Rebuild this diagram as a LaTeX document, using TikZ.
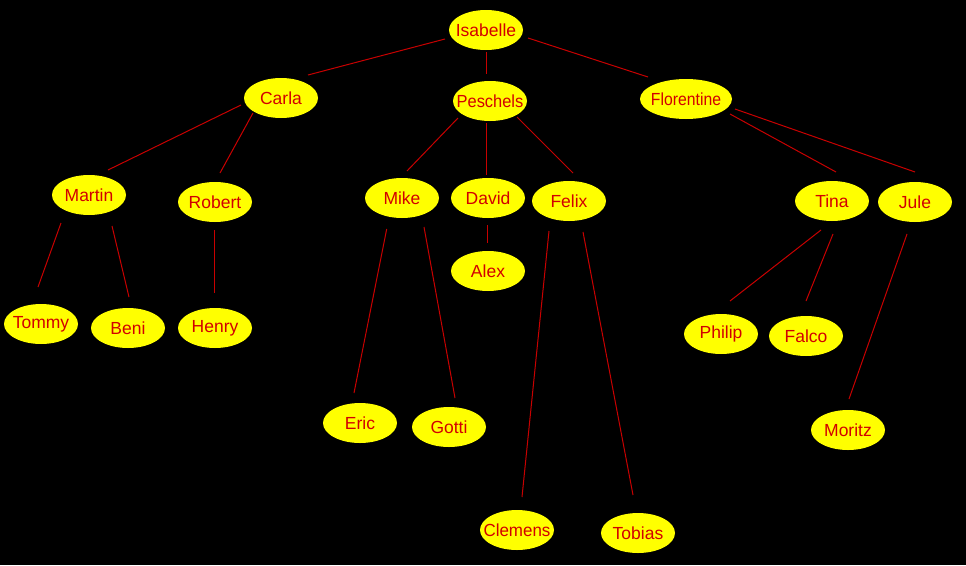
\documentclass[tikz,border=0pt]{standalone}
\usepackage{fontspec}
\setmainfont{Liberation Sans}
\usetikzlibrary{shapes.geometric}
\definecolor{nodered}{RGB}{210,0,0}
\definecolor{linered}{RGB}{200,0,0}
\definecolor{nodeyellow}{RGB}{255,255,0}
\tikzset{
  person/.style={rectangle, text=nodered, minimum width=74pt, minimum height=40pt, inner sep=0pt,
    font=\fontsize{17.5}{17.5}\selectfont,
    path picture={\fill[nodeyellow] (path picture bounding box.center) ellipse ({\pgfkeysvalueof{/tikz/ellw}} and 20pt);}},
  ellw/.initial=37pt,
  wide/.style={minimum width=92pt, ellw=46pt},
  link/.style={draw=linered, line width=1pt}
}
\begin{document}
\begin{tikzpicture}[x=1pt,y=-1pt]
\fill[black] (0,0) rectangle (966,565);
\useasboundingbox (0,0) rectangle (966,565);
% nodes
\node[person] (isabelle) at (486,30) {Isabelle};
\node[person] (carla) at (281,98) {Carla};
\node[person] (peschels) at (490,101) {\scalebox{0.94}[1]{Peschels}};
\node[person,wide] (florentine) at (686,99) {\scalebox{0.9}[1]{Florentine}};
\node[person] (martin) at (89,195) {Martin};
\node[person] (robert) at (215,202) {Robert};
\node[person] (mike) at (402,198) {Mike};
\node[person] (david) at (488,198) {David};
\node[person] (felix) at (569,201) {Felix};
\node[person] (tina) at (832,201) {Tina};
\node[person] (jule) at (915,202) {Jule};
\node[person] (alex) at (488,271) {Alex};
\node[person] (tommy) at (41,324) {Tommy};
\node[person] (beni) at (128,328) {Beni};
\node[person] (henry) at (215,328) {Henry};
\node[person] (philip) at (721,334) {Philip};
\node[person] (falco) at (806,336) {Falco};
\node[person] (eric) at (360,423) {Eric};
\node[person] (gotti) at (449,427) {Gotti};
\node[person] (moritz) at (848,430) {Moritz};
\node[person] (clemens) at (517,530) {\scalebox{0.97}[1]{Clemens}};
\node[person] (tobias) at (638,533) {Tobias};
% connector end points
\coordinate (isa-c) at (445,39);   \coordinate (car-i) at (308,75);
\coordinate (isa-p) at (486,52);   \coordinate (pes-i) at (486,74);
\coordinate (isa-f) at (528,38);   \coordinate (flo-i) at (648,77);
\coordinate (car-m) at (241,105);  \coordinate (mar-c) at (108,170);
\coordinate (car-r) at (253,113);  \coordinate (rob-c) at (220,173);
\coordinate (pes-m) at (458,118);  \coordinate (mik-p) at (407,171);
\coordinate (pes-d) at (486,123);  \coordinate (dav-p) at (486,175);
\coordinate (pes-f) at (517,117);  \coordinate (fel-p) at (573,173);
\coordinate (flo-t) at (730,114);  \coordinate (tin-f) at (836,172);
\coordinate (flo-j) at (735,109);  \coordinate (jul-f) at (915,172);
\coordinate (mar-t) at (61,223);   \coordinate (tom-m) at (38,287);
\coordinate (mar-b) at (112,226);  \coordinate (ben-m) at (129,297);
\coordinate (rob-h) at (214,230);  \coordinate (hen-r) at (214,293);
\coordinate (mik-e) at (386.7,229);\coordinate (eri-m) at (354,393);
\coordinate (mik-g) at (424,227);  \coordinate (got-m) at (455,398);
\coordinate (dav-a) at (487,225);  \coordinate (ale-d) at (487,243);
\coordinate (fel-c) at (549,231);  \coordinate (cle-f) at (522,497);
\coordinate (fel-t) at (583,232);  \coordinate (tob-f) at (633,495);
\coordinate (tin-p) at (821,230);  \coordinate (phi-t) at (730,301);
\coordinate (tin-fa) at (833,234); \coordinate (fal-t) at (806,301);
\coordinate (jul-m) at (907,234);  \coordinate (mor-j) at (849,399);
% connectors
\draw[link] (isa-c) -- (car-i);
\draw[link] (isa-p) -- (pes-i);
\draw[link] (isa-f) -- (flo-i);
\draw[link] (car-m) -- (mar-c);
\draw[link] (car-r) -- (rob-c);
\draw[link] (pes-m) -- (mik-p);
\draw[link] (pes-d) -- (dav-p);
\draw[link] (pes-f) -- (fel-p);
\draw[link] (flo-t) -- (tin-f);
\draw[link] (flo-j) -- (jul-f);
\draw[link] (mar-t) -- (tom-m);
\draw[link] (mar-b) -- (ben-m);
\draw[link] (rob-h) -- (hen-r);
\draw[link] (mik-e) -- (eri-m);
\draw[link] (mik-g) -- (got-m);
\draw[link] (dav-a) -- (ale-d);
\draw[link] (fel-c) -- (cle-f);
\draw[link] (fel-t) -- (tob-f);
\draw[link] (tin-p) -- (phi-t);
\draw[link] (tin-fa) -- (fal-t);
\draw[link] (jul-m) -- (mor-j);
\end{tikzpicture}
\end{document}
